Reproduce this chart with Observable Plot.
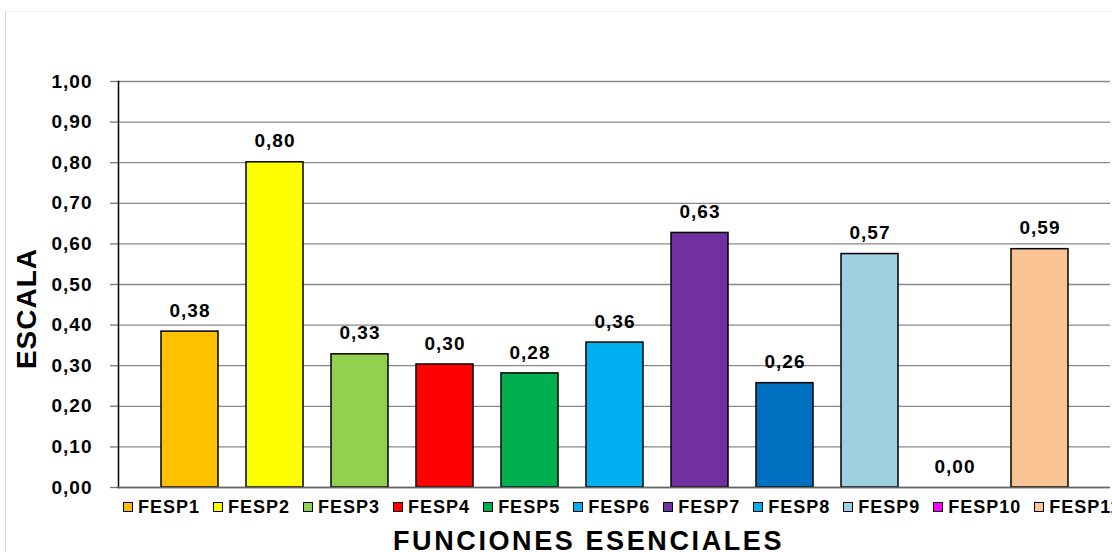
<!DOCTYPE html>
<html>
<head>
<meta charset="utf-8">
<script src="https://cdn.jsdelivr.net/npm/d3@7"></script>
<script src="https://cdn.jsdelivr.net/npm/@observablehq/plot@0.6"></script>
<style>
  html, body { margin: 0; padding: 0; background: #fff; }
  #wrap { position: relative; width: 1112px; height: 552px; overflow: hidden; font-family: "Liberation Sans", Arial, sans-serif; }
  #border { position: absolute; left: 5px; top: 11px; width: 1200px; height: 700px; border-left: 1px solid #d4d4d4; border-top: 1px solid #f2f2f2; pointer-events: none; }
  #chart svg { display: block; }
  #legend { display: flex; gap: 13px; padding-left: 123px; margin-top: 6px; height: 22px; align-items: center; font-weight: bold; font-size: 18px; letter-spacing: 1px; white-space: nowrap; }
  #legend .item { display: flex; align-items: center; }
  #legend .sw { width: 8px; height: 8px; border: 1.5px solid #000; margin-right: 5px; }
  #xtitle { position: absolute; left: 393px; top: 526px; font-weight: bold; font-size: 27px; letter-spacing: 2.6px; white-space: nowrap; line-height: 30px; }
</style>
</head>
<body>
<div id="wrap">
  <div id="chart"></div>
  <div id="legend"></div>
  <div id="xtitle"></div>
  <div id="border"></div>
</div>
<script>
const categories = ["FESP1","FESP2","FESP3","FESP4","FESP5","FESP6","FESP7","FESP8","FESP9","FESP10","FESP11"];
const values = [0.384, 0.801, 0.328, 0.303, 0.281, 0.357, 0.627, 0.257, 0.575, 0.00, 0.587];
const barColors = ["#FFC000","#FFFF00","#92D050","#FF0000","#00B050","#00B0F0","#7030A0","#0070C0","#9DD0E0","#FF00FF","#FAC393"];
const legendColors = ["#FFC000","#FFFF00","#92D050","#FF0000","#00B050","#00B0F0","#7030A0","#00B0F0","#9DD0E0","#FF00FF","#FAC393"];
const yTicks = [0, 0.1, 0.2, 0.3, 0.4, 0.5, 0.6, 0.7, 0.8, 0.9, 1.0];
const yTitle = "ESCALA";
const xTitle = "FUNCIONES ESENCIALES";

const data = categories.map((c, i) => ({cat: c, value: values[i], color: barColors[i]}));
const fmt = d => d.toFixed(2).replace(".", ",");

const plot = Plot.plot({
  width: 1112,
  height: 490,
  marginTop: 81,
  marginBottom: 3,
  marginLeft: 118,
  marginRight: 2,
  style: {fontFamily: "'Liberation Sans', Arial, sans-serif", fontWeight: "bold", fontSize: "19px", color: "#000", letterSpacing: "1px", overflow: "visible"},
  x: {domain: categories, paddingInner: 0.33, paddingOuter: 0.5, axis: null},
  y: {domain: [0, 1]},
  marks: [
    Plot.gridY(yTicks, {stroke: "#888", strokeOpacity: 1, strokeWidth: 1.3}),
    Plot.axisY(yTicks, {tickFormat: fmt, tickSize: 8, tickPadding: 18, stroke: "#777", strokeWidth: 1.3, label: null, fill: "#000"}),
    Plot.text([yTitle], {frameAnchor: "left", textAnchor: "middle", lineAnchor: "middle", rotate: -90, dx: -91, dy: 24, fontSize: 28, fill: "#000", text: d => d}),
    Plot.barY(data, {x: "cat", y: "value", fill: "color", stroke: "#000", strokeWidth: 1.5}),
    Plot.frame({anchor: "left", stroke: "#000", strokeWidth: 1.5}),
    Plot.ruleY([0], {stroke: "#666", strokeWidth: 1.5}),
    Plot.text(data, {x: "cat", y: "value", text: d => fmt(d.value), dy: -21, fill: "#000"})
  ]
});
document.getElementById("chart").appendChild(plot);

const legend = document.getElementById("legend");
categories.forEach((c, i) => {
  const item = document.createElement("div");
  item.className = "item";
  const sw = document.createElement("div");
  sw.className = "sw";
  sw.style.background = legendColors[i];
  const t = document.createElement("span");
  t.textContent = c;
  item.appendChild(sw);
  item.appendChild(t);
  legend.appendChild(item);
});
document.getElementById("xtitle").textContent = xTitle;
</script>
</body>
</html>
